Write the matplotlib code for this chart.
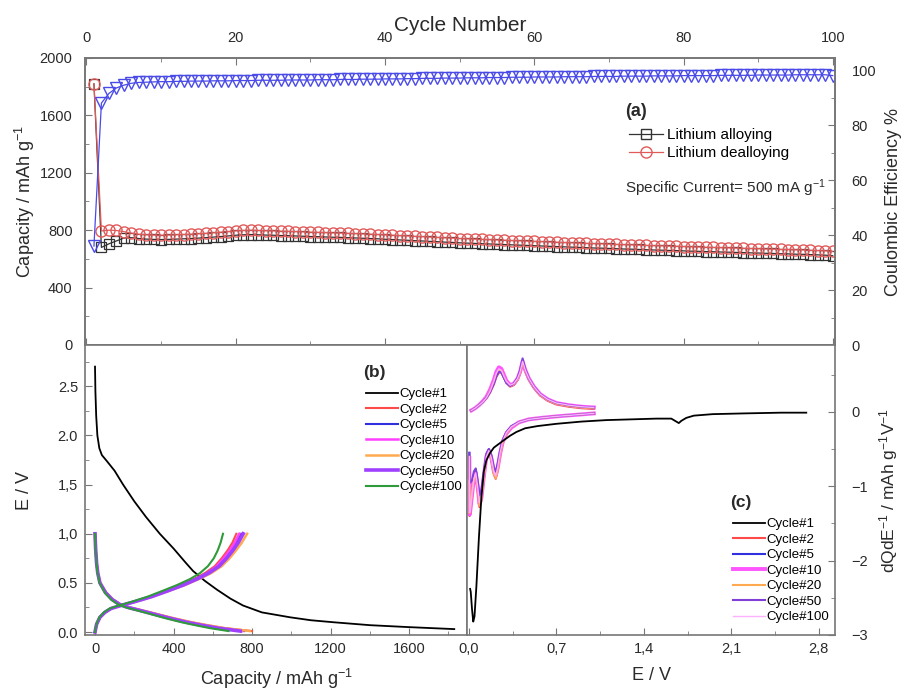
import matplotlib
matplotlib.use("Agg")
import matplotlib.pyplot as plt
from matplotlib.lines import Line2D
from matplotlib.ticker import MultipleLocator

plt.rcParams['font.family'] = ['Liberation Sans', 'DejaVu Sans']
plt.rcParams['mathtext.default'] = 'regular'

# ---------------- panel (a): cycling data ----------------
cycles = list(range(1, 101))
alloying = [
    1820,
    680, 705, 725, 745, 748, 742, 738, 736, 735,
    736, 738, 740, 742, 745, 748, 752, 756, 760, 765,
    768, 770, 768, 766, 765, 763, 762, 760, 758, 756,
    755, 753, 751, 750, 748, 746, 744, 742, 740, 737,
    735, 732, 730, 727, 725, 722, 720, 717, 715, 712,
    710, 708, 706, 704, 702, 700, 698, 696, 694, 692,
    690, 688, 686, 684, 682, 680, 678, 676, 675, 673,
    671, 669, 668, 666, 664, 662, 661, 659, 658, 656,
    654, 653, 651, 650, 648, 647, 645, 644, 642, 641,
    639, 638, 636, 635, 633, 632, 630, 628, 626, 622,
]
dealloying = [
    1820,
    795, 800, 798, 790, 780, 772, 768, 766, 765,
    766, 768, 770, 772, 775, 778, 782, 786, 790, 795,
    798, 800, 798, 796, 795, 793, 792, 790, 788, 786,
    785, 783, 781, 780, 778, 776, 774, 772, 770, 767,
    765, 762, 760, 757, 755, 752, 750, 747, 745, 742,
    740, 738, 736, 734, 732, 730, 728, 726, 724, 722,
    720, 718, 716, 714, 712, 710, 708, 706, 705, 703,
    701, 699, 698, 696, 694, 692, 691, 689, 688, 686,
    684, 683, 681, 680, 678, 677, 675, 674, 672, 671,
    669, 668, 666, 665, 663, 662, 660, 658, 656, 652,
]
efficiency = [
    36,
    88, 91.5, 93.5, 94.5, 95.2, 95.5, 95.6, 95.7, 95.8,
    95.8, 95.9, 95.9, 96.0, 96.0, 96.0, 96.1, 96.1, 96.1, 96.2,
    96.2, 96.2, 96.3, 96.3, 96.3, 96.3, 96.4, 96.4, 96.4, 96.4,
    96.5, 96.5, 96.5, 96.6, 96.6, 96.6, 96.7, 96.7, 96.7, 96.8,
    96.8, 96.8, 96.9, 96.9, 97.0, 97.0, 97.0, 97.1, 97.1, 97.1,
    97.2, 97.2, 97.2, 97.3, 97.3, 97.3, 97.4, 97.4, 97.4, 97.5,
    97.5, 97.5, 97.5, 97.6, 97.6, 97.6, 97.6, 97.7, 97.7, 97.7,
    97.7, 97.8, 97.8, 97.8, 97.8, 97.9, 97.9, 97.9, 97.9, 98.0,
    98.0, 98.0, 98.0, 98.0, 98.1, 98.1, 98.1, 98.1, 98.1, 98.2,
    98.2, 98.2, 98.2, 98.2, 98.3, 98.3, 98.3, 98.3, 98.3, 98.0,
]

# ---------------- panel (b): voltage profiles ----------------
cycle_names = ['Cycle#1', 'Cycle#2', 'Cycle#5', 'Cycle#10', 'Cycle#20', 'Cycle#50', 'Cycle#100']

cap_c1 = [0, 2, 6, 12, 22, 35, 60, 100, 143, 200, 260, 330, 400, 460, 500, 560,
          622, 690, 754, 850, 994, 1100, 1213, 1400, 1600, 1830]
volt_c1 = [2.7, 2.45, 2.2, 2.0, 1.87, 1.8, 1.74, 1.64, 1.5, 1.33, 1.17, 1.0, 0.85, 0.71, 0.62, 0.52,
           0.43, 0.34, 0.27, 0.2, 0.15, 0.12, 0.1, 0.07, 0.05, 0.03]

volt_dis = [1.0, 0.85, 0.7, 0.6, 0.5, 0.4, 0.33, 0.28, 0.25, 0.22, 0.18, 0.14, 0.1, 0.07, 0.04, 0.01]
cap_dis = {
    'Cycle#2': [0, 3, 8, 14, 25, 55, 90, 130, 175, 240, 320, 400, 490, 570, 660, 800],
    'Cycle#5': [0, 3, 8, 14, 25, 55, 90, 130, 172, 235, 312, 390, 478, 555, 640, 760],
    'Cycle#10': [0, 3, 8, 14, 25, 55, 90, 128, 170, 232, 310, 388, 475, 550, 635, 750],
    'Cycle#20': [0, 3, 8, 15, 26, 57, 92, 132, 178, 242, 322, 402, 492, 572, 660, 790],
    'Cycle#50': [0, 3, 8, 14, 25, 54, 88, 126, 168, 228, 305, 382, 466, 542, 625, 740],
    'Cycle#100': [0, 3, 7, 13, 23, 50, 82, 118, 158, 215, 288, 360, 440, 510, 585, 680],
}
volt_ch = [0.0, 0.08, 0.15, 0.2, 0.24, 0.27, 0.31, 0.36, 0.42, 0.48, 0.54, 0.6, 0.67, 0.75, 0.83, 0.91, 1.0]
cap_ch = {
    'Cycle#2': [0, 8, 24, 48, 80, 130, 200, 280, 360, 440, 505, 560, 610, 645, 675, 700, 720],
    'Cycle#5': [0, 8, 24, 48, 80, 130, 200, 282, 365, 445, 512, 570, 622, 660, 692, 720, 745],
    'Cycle#10': [0, 8, 25, 50, 82, 132, 202, 285, 368, 448, 515, 572, 620, 655, 686, 712, 735],
    'Cycle#20': [0, 8, 25, 50, 82, 135, 208, 292, 378, 460, 530, 592, 645, 685, 718, 748, 775],
    'Cycle#50': [0, 8, 25, 50, 82, 132, 204, 288, 372, 452, 520, 580, 632, 670, 702, 730, 755],
    'Cycle#100': [0, 7, 22, 45, 75, 122, 190, 268, 345, 420, 485, 535, 575, 605, 625, 640, 652],
}

# ---------------- panel (c): differential capacity ----------------
e_c1 = [2.7, 2.5, 2.2, 1.95, 1.8, 1.74, 1.7, 1.68, 1.66, 1.62, 1.5, 1.3, 1.1, 0.9, 0.7, 0.55,
        0.45, 0.38, 0.33, 0.28, 0.24, 0.2, 0.17, 0.14, 0.12, 0.1, 0.08, 0.06, 0.045, 0.035,
        0.025, 0.015, 0.01]
dq_c1 = [-0.01, -0.01, -0.02, -0.03, -0.05, -0.08, -0.12, -0.15, -0.13, -0.09, -0.09, -0.1,
         -0.11, -0.13, -0.16, -0.19, -0.22, -0.27, -0.32, -0.38, -0.43, -0.48, -0.55, -0.65,
         -0.8, -1.15, -1.7, -2.35, -2.75, -2.82, -2.65, -2.42, -2.38]

e_red = [1.0, 0.85, 0.7, 0.58, 0.48, 0.4, 0.34, 0.3, 0.27, 0.25, 0.23, 0.215, 0.2, 0.18, 0.16,
         0.14, 0.12, 0.1, 0.085, 0.07, 0.055, 0.04, 0.025, 0.012, 0.006, 0.004]
dq_red = {
    'Cycle#2': [-0.02, -0.04, -0.06, -0.08, -0.1, -0.14, -0.2, -0.3, -0.42, -0.58, -0.78, -0.9,
                -0.84, -0.64, -0.54, -0.62, -0.9, -1.2, -1.28, -1.05, -0.85, -0.92, -1.12, -1.35, -1.4, -0.65],
    'Cycle#5': [-0.02, -0.04, -0.06, -0.08, -0.1, -0.14, -0.2, -0.28, -0.4, -0.55, -0.74, -0.85,
                -0.8, -0.6, -0.5, -0.58, -0.82, -1.1, -1.18, -0.95, -0.78, -0.85, -1.0, -1.1, -1.05, -0.55],
    'Cycle#10': [-0.02, -0.04, -0.06, -0.08, -0.1, -0.14, -0.21, -0.29, -0.41, -0.56, -0.76, -0.86,
                 -0.8, -0.62, -0.52, -0.6, -0.86, -1.16, -1.24, -1.0, -0.82, -0.9, -1.12, -1.32, -1.38, -0.62],
    'Cycle#20': [-0.02, -0.04, -0.06, -0.08, -0.1, -0.14, -0.2, -0.29, -0.42, -0.57, -0.78, -0.89,
                 -0.83, -0.63, -0.53, -0.61, -0.88, -1.18, -1.26, -1.02, -0.84, -0.9, -1.1, -1.3, -1.36, -0.6],
    'Cycle#50': [-0.02, -0.04, -0.06, -0.08, -0.1, -0.14, -0.19, -0.27, -0.38, -0.52, -0.7, -0.8,
                 -0.75, -0.58, -0.5, -0.56, -0.8, -1.05, -1.12, -0.92, -0.76, -0.8, -0.92, -0.95, -0.9, -0.55],
    'Cycle#100': [-0.02, -0.04, -0.06, -0.08, -0.1, -0.14, -0.2, -0.28, -0.4, -0.55, -0.75, -0.86,
                  -0.8, -0.62, -0.52, -0.6, -0.85, -1.15, -1.22, -1.0, -0.82, -0.9, -1.1, -1.3, -1.35, -0.6],
}
e_ox = [0.02, 0.05, 0.08, 0.11, 0.14, 0.17, 0.2, 0.22, 0.24, 0.26, 0.28, 0.3, 0.33, 0.36, 0.39,
        0.41, 0.43, 0.45, 0.48, 0.52, 0.57, 0.63, 0.7, 0.8, 0.9, 1.0]
dq_ox = {
    'Cycle#2': [0.02, 0.05, 0.09, 0.13, 0.18, 0.26, 0.37, 0.47, 0.53, 0.53, 0.46, 0.39, 0.34, 0.36,
                0.43, 0.52, 0.66, 0.55, 0.43, 0.32, 0.22, 0.15, 0.1, 0.07, 0.05, 0.04],
    'Cycle#5': [0.02, 0.05, 0.09, 0.13, 0.19, 0.28, 0.4, 0.5, 0.56, 0.55, 0.47, 0.4, 0.35, 0.37,
                0.44, 0.53, 0.68, 0.56, 0.44, 0.33, 0.23, 0.16, 0.11, 0.08, 0.06, 0.05],
    'Cycle#10': [0.02, 0.05, 0.09, 0.14, 0.2, 0.3, 0.43, 0.54, 0.6, 0.58, 0.5, 0.42, 0.36, 0.38,
                 0.45, 0.54, 0.68, 0.57, 0.45, 0.34, 0.24, 0.17, 0.12, 0.09, 0.07, 0.06],
    'Cycle#20': [0.02, 0.05, 0.09, 0.13, 0.19, 0.28, 0.4, 0.5, 0.56, 0.55, 0.47, 0.4, 0.35, 0.37,
                 0.44, 0.53, 0.67, 0.56, 0.44, 0.33, 0.23, 0.16, 0.11, 0.08, 0.06, 0.05],
    'Cycle#50': [0.02, 0.05, 0.09, 0.13, 0.19, 0.27, 0.38, 0.48, 0.54, 0.53, 0.46, 0.39, 0.35, 0.38,
                 0.46, 0.56, 0.72, 0.58, 0.45, 0.34, 0.24, 0.17, 0.12, 0.09, 0.07, 0.06],
    'Cycle#100': [0.02, 0.05, 0.09, 0.13, 0.19, 0.28, 0.41, 0.52, 0.58, 0.56, 0.48, 0.41, 0.36, 0.38,
                  0.45, 0.54, 0.68, 0.57, 0.45, 0.34, 0.24, 0.17, 0.12, 0.09, 0.07, 0.06],
}

colors_b = {'Cycle#1': 'black', 'Cycle#2': '#ff4a4a', 'Cycle#5': '#3030e0', 'Cycle#10': '#ff40ff',
            'Cycle#20': '#ffaa50', 'Cycle#50': '#a040ff', 'Cycle#100': '#2f9a3a'}
widths_b = {'Cycle#1': 1.3, 'Cycle#2': 1.5, 'Cycle#5': 1.5, 'Cycle#10': 1.8,
            'Cycle#20': 1.8, 'Cycle#50': 2.6, 'Cycle#100': 1.5}
colors_c = {'Cycle#1': 'black', 'Cycle#2': '#ff4a4a', 'Cycle#5': '#3030e0', 'Cycle#10': '#ff55ff',
            'Cycle#20': '#ffaa50', 'Cycle#50': '#8040d8', 'Cycle#100': '#ffb0ff'}
widths_c = {'Cycle#1': 1.3, 'Cycle#2': 1.5, 'Cycle#5': 1.5, 'Cycle#10': 2.8,
            'Cycle#20': 1.5, 'Cycle#50': 1.5, 'Cycle#100': 1.0}

text_col = '#2a2a2a'
spine_col = '#777777'


def style_axes(ax, pad=4):
    for sp in ax.spines.values():
        sp.set_color(spine_col)
        sp.set_linewidth(1.2)
    ax.tick_params(which='both', direction='in', colors=spine_col, labelcolor=text_col,
                   labelsize=10.5, pad=pad)
    ax.tick_params(which='major', length=5)
    ax.tick_params(which='minor', length=3)


fig = plt.figure(figsize=(9.05, 6.91), dpi=100)

# ----- (a) -----
ax_a = fig.add_axes([85 / 905, 1 - 345 / 691, 750 / 905, 287 / 691])
ax_ce = ax_a.twinx()
ax_a.plot(cycles, alloying, '-', color='#333333', lw=0.9, marker='s', ms=7, mfc='none',
          mec='#333333', mew=0.9, zorder=2)
ax_a.plot(cycles, dealloying, '-', color='#e05a5a', lw=0.9, marker='o', ms=8, mfc='none',
          mec='#e05a5a', mew=1.0, zorder=3)
ax_ce.plot(cycles, efficiency, '-', color='#4a4ae8', lw=0.9, marker='v', ms=8, mfc='none',
           mec='#4a4ae8', mew=1.0)
ax_a.set_xlim(-0.2, 100.3)
ax_a.set_ylim(0, 2000)
ax_ce.set_ylim(0, 104.4)
ax_a.xaxis.set_major_locator(MultipleLocator(20))
ax_a.xaxis.set_minor_locator(MultipleLocator(10))
ax_a.yaxis.set_major_locator(MultipleLocator(400))
ax_a.yaxis.set_minor_locator(MultipleLocator(200))
ax_ce.yaxis.set_major_locator(MultipleLocator(20))
ax_ce.yaxis.set_minor_locator(MultipleLocator(10))
style_axes(ax_a, pad=9)
style_axes(ax_ce, pad=12)
ax_a.tick_params(axis='x', which='both', top=True, bottom=True, labeltop=True, labelbottom=False)
ax_a.xaxis.set_label_position('top')
ax_a.set_xlabel('Cycle Number', fontsize=15, color=text_col, labelpad=0)
ax_a.set_ylabel('Capacity / mAh g$^{-1}$', fontsize=13, color=text_col, labelpad=2)
ax_ce.set_ylabel('Coulombic Efficiency %', fontsize=13, color=text_col, labelpad=6)

handles_a = [
    Line2D([], [], color='#333333', lw=0.9, marker='s', ms=7, mfc='none', mec='#333333'),
    Line2D([], [], color='#e05a5a', lw=0.9, marker='o', ms=8, mfc='none', mec='#e05a5a'),
]
fig.text(625 / 905, 1 - 111 / 691, '(a)', fontsize=13, fontweight='bold', color=text_col,
         va='center')
fig.legend(handles_a, ['Lithium alloying', 'Lithium dealloying'], loc='upper left',
           bbox_to_anchor=(620 / 905, 1 - 119 / 691), frameon=False, fontsize=11,
           handlelength=2.2, handletextpad=0.3, labelspacing=0.25, borderpad=0.1)
fig.text(625 / 905, 1 - 188 / 691, 'Specific Current= 500 mA g$^{-1}$', fontsize=11,
         color=text_col, va='center')

# ----- (b) -----
ax_b = fig.add_axes([85 / 905, 1 - 635 / 691, 382 / 905, 290 / 691])
ax_b.plot(cap_c1, volt_c1, color=colors_b['Cycle#1'], lw=widths_b['Cycle#1'],
          label='Cycle#1')
for name in cycle_names[1:]:
    ax_b.plot(cap_dis[name], volt_dis, color=colors_b[name], lw=widths_b[name], label=name)
    ax_b.plot(cap_ch[name], volt_ch, color=colors_b[name], lw=widths_b[name])
ax_b.set_xlim(-51, 1895)
ax_b.set_ylim(-0.03, 2.92)
ax_b.xaxis.set_major_locator(MultipleLocator(400))
ax_b.xaxis.set_minor_locator(MultipleLocator(200))
ax_b.set_yticks([0, 0.5, 1.0, 1.5, 2.0, 2.5])
ax_b.set_yticklabels(['0.0', '0.5', '1,0', '1,5', '2.0', '2.5'])
ax_b.yaxis.set_minor_locator(MultipleLocator(0.25))
style_axes(ax_b, pad=5)
ax_b.set_xlabel('Capacity / mAh g$^{-1}$', fontsize=13, color=text_col, labelpad=8)
ax_b.set_ylabel('E / V', fontsize=13, color=text_col, labelpad=18)
ax_b.text((363 - 85) / 382, (635 - 372) / 290, '(b)', transform=ax_b.transAxes, fontsize=12.5,
          fontweight='bold', color=text_col, va='center')
ax_b.legend(loc='upper left', bbox_to_anchor=((358 - 85) / 382, (635 - 380) / 290),
            frameon=False, fontsize=9.5, handlelength=2.4, handletextpad=0.15,
            labelspacing=0.25, borderpad=0.1)

# ----- (c) -----
ax_c = fig.add_axes([467 / 905, 1 - 635 / 691, 368 / 905, 290 / 691])
ax_c.plot(e_c1, dq_c1, color=colors_c['Cycle#1'], lw=widths_c['Cycle#1'], label='Cycle#1',
          zorder=4)
for name in cycle_names[1:]:
    ax_c.plot(e_red, dq_red[name], color=colors_c[name], lw=widths_c[name], label=name)
    ax_c.plot(e_ox, dq_ox[name], color=colors_c[name], lw=widths_c[name])
ax_c.set_xlim(-0.015, 2.93)
ax_c.set_ylim(-3, 0.9)
ax_c.set_xticks([0, 0.7, 1.4, 2.1, 2.8])
ax_c.set_xticklabels(['0,0', '0,7', '1,4', '2,1', '2,8'])
ax_c.xaxis.set_minor_locator(MultipleLocator(0.35))
ax_c.yaxis.set_major_locator(MultipleLocator(1))
ax_c.yaxis.set_minor_locator(MultipleLocator(0.5))
style_axes(ax_c, pad=5)
ax_c.yaxis.tick_right()
ax_c.tick_params(axis='y', which='both', left=False, right=True, pad=12)
ax_c.yaxis.set_label_position('right')
ax_c.set_ylabel('dQdE$^{-1}$ / mAh g$^{-1}$V$^{-1}$', fontsize=12.5, color=text_col, labelpad=6)
ax_c.set_xlabel('E / V', fontsize=13, color=text_col, labelpad=8)
ax_c.text((730 - 467) / 368, (635 - 502) / 290, '(c)', transform=ax_c.transAxes, fontsize=12.5,
          fontweight='bold', color=text_col, va='center')
ax_c.legend(loc='upper left', bbox_to_anchor=((725 - 467) / 368, (635 - 510) / 290),
            frameon=False, fontsize=9.5, handlelength=2.4, handletextpad=0.15,
            labelspacing=0.25, borderpad=0.1)

fig.savefig('out.png', dpi=100)
